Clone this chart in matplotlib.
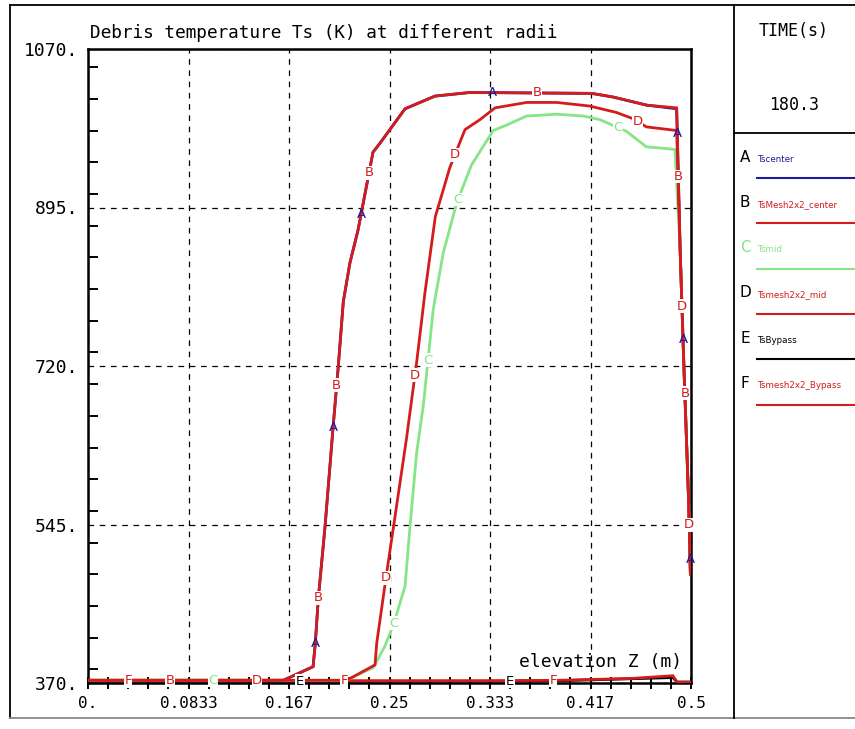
import numpy as np
import matplotlib
matplotlib.use('Agg')
import matplotlib.pyplot as plt
from matplotlib.lines import Line2D
from matplotlib.ticker import MultipleLocator

# data: elevation Z (m) vs debris temperature Ts (K)
z_a = [0, 0.162, 0.1866, 0.1885, 0.191, 0.1965, 0.2032, 0.2075, 0.2117, 0.2172, 0.2239, 0.2363,
       0.2421, 0.2629, 0.2877, 0.3167, 0.4177, 0.4353, 0.4633, 0.4881, 0.491, 0.494, 0.498, 0.4995]
t_a = [373, 373, 388, 414, 464, 542, 652, 719, 791, 834, 870, 956,
       966, 1004, 1018, 1022, 1021, 1017, 1008, 1004, 848, 724, 572, 490]
z_b = [0, 0.162, 0.1866, 0.1885, 0.191, 0.1965, 0.2032, 0.2075, 0.2117, 0.2172, 0.2239, 0.2363,
       0.2421, 0.2629, 0.2877, 0.3167, 0.4177, 0.4353, 0.4633, 0.4881, 0.491, 0.494, 0.498, 0.4995]
t_b = [373, 373, 388, 414, 464, 542, 652, 719, 791, 834, 870, 956,
       966, 1004, 1018, 1022, 1021, 1017, 1008, 1005, 848, 724, 572, 490]
z_c = [0, 0.2145, 0.2366, 0.2463, 0.2537, 0.2629, 0.267, 0.2725, 0.278, 0.2863, 0.2946, 0.3057,
       0.318, 0.336, 0.347, 0.3637, 0.3886, 0.4107, 0.4245, 0.4466, 0.463, 0.480, 0.4867,
       0.491, 0.494, 0.498, 0.4995]
t_c = [373, 373, 387, 411, 436, 477, 543, 624, 676, 783, 845, 900,
       942, 980, 986, 996, 998, 996, 992, 979, 962, 960, 959,
       848, 724, 572, 490]
z_d = [0, 0.2145, 0.238, 0.2394, 0.2477, 0.2546, 0.264, 0.2725, 0.2794, 0.288, 0.300, 0.3126,
       0.325, 0.3375, 0.3637, 0.3886, 0.416, 0.438, 0.452, 0.463, 0.4881, 0.491, 0.494, 0.498, 0.4995]
t_d = [373, 373, 390, 414, 492, 554, 639, 724, 801, 885, 939, 981,
       992, 1005, 1011, 1011, 1007, 1000, 993, 984, 980, 848, 724, 572, 490]
z_e = [0, 0.33, 0.391, 0.485, 0.4885, 0.5]
t_e = [372, 372, 372.5, 376, 371, 371]
z_f = [0, 0.33, 0.391, 0.45, 0.485, 0.4885, 0.5]
t_f = [372.5, 372.5, 373, 375, 378, 371, 371]

names = ['Tscenter', 'TsMesh2x2_center', 'Tsmid', 'Tsmesh2x2_mid', 'TsBypass', 'Tsmesh2x2_Bypass']
letters = ['A', 'B', 'C', 'D', 'E', 'F']
colors = ['#1c1c9c', '#d41c1c', '#86e586', '#d41c1c', '#000000', '#d41c1c']
# where the letter marks sit along each curve (elevation)
mark_z = [
    [0.1885, 0.2032, 0.2264, 0.335, 0.4886, 0.4934, 0.4992],
    [0.068, 0.191, 0.2062, 0.233, 0.3723, 0.4895, 0.4949],
    [0.1037, 0.2537, 0.2819, 0.3068, 0.4395],
    [0.1401, 0.2471, 0.2711, 0.3043, 0.456, 0.4925, 0.4985],
    [0.1758, 0.3499],
    [0.0332, 0.2123, 0.3856],
]
xticks = [0, 1/12, 1/6, 0.25, 1/3, 5/12, 0.5]
xlabels = ['0.', '0.0833', '0.167', '0.25', '0.333', '0.417', '0.5']
yticks = [370, 545, 720, 895, 1070]
ylabels = ['370.', '545.', '720.', '895.', '1070.']

W, H = 855, 729
mono = 'DejaVu Sans Mono'


def fp(x, y):
    return x / W, 1 - y / H


fig = plt.figure(figsize=(W / 100, H / 100), dpi=100)
ax = fig.add_axes([88 / W, 1 - 683 / H, 603 / W, 634 / H])

series = [(z_a, t_a), (z_b, t_b), (z_c, t_c), (z_d, t_d), (z_e, t_e), (z_f, t_f)]
order = [4, 0, 5, 2, 3, 1]
for i in order:
    z, t = series[i]
    ax.plot(z, t, color=colors[i], lw=2.0, solid_joinstyle='miter', zorder=3)

for i in range(6):
    z, t = series[i]
    for mz in mark_z[i]:
        mt = np.interp(mz, z, t)
        kw = {}
        if i != 0:
            kw['bbox'] = dict(facecolor='white', edgecolor='none', pad=0.3)
        ax.text(mz, mt, letters[i], color=colors[i], fontsize=9.5, ha='center', va='center',
                zorder=5, clip_on=False, **kw)

ax.set_xlim(0, 0.5)
ax.set_ylim(370, 1070)
ax.set_xticks(xticks)
ax.set_xticklabels(xlabels, fontfamily=mono, fontsize=11.5)
ax.set_yticks(yticks)
ax.set_yticklabels(ylabels, fontfamily=mono, fontsize=13)
ax.xaxis.set_minor_locator(MultipleLocator(1 / 60))
ax.yaxis.set_minor_locator(MultipleLocator(35))
ax.tick_params(axis='x', which='both', direction='inout', length=8, width=1.4, pad=5)
ax.tick_params(axis='y', which='major', length=0, pad=7)
ax.tick_params(axis='y', which='minor', direction='in', length=7, width=1.4)
ax.grid(which='major', color='black', linestyle=(0, (4.5, 4.5)), lw=0.9)
for s in ax.spines.values():
    s.set_linewidth(1.8)

ax.text(0.985, 0.033, 'elevation Z (m)', transform=ax.transAxes, ha='right', va='center',
        fontfamily=mono, fontsize=13, zorder=6)
fig.text(*fp(90, 33), 'Debris temperature Ts (K) at different radii', ha='left', va='center',
         fontfamily=mono, fontsize=12.8)

# frame and side panel
fig.add_artist(Line2D([10 / W, 1], [1 - 5 / H] * 2, color='black', lw=1.3))
fig.add_artist(Line2D([10 / W] * 2, [1 - 5 / H, 1 - 718 / H], color='black', lw=1.3))
fig.add_artist(Line2D([10 / W, 1], [1 - 718 / H] * 2, color='#888888', lw=1.3))
fig.add_artist(Line2D([734 / W] * 2, [1 - 5 / H, 1 - 718 / H], color='black', lw=1.3))
fig.add_artist(Line2D([734 / W, 1], [1 - 133 / H] * 2, color='black', lw=1.3))
fig.text(*fp(794, 31), 'TIME(s)', ha='center', va='center', fontfamily=mono, fontsize=12)
fig.text(*fp(794, 105), '180.3', ha='center', va='center', fontfamily=mono, fontsize=12)

for i in range(6):
    ty = 157 + i * 45.3
    fig.text(*fp(745, ty), letters[i], color='black' if i != 2 else colors[i],
             ha='center', va='center', fontsize=11)
    fig.text(*fp(757, ty + 2), names[i], color=colors[i], ha='left', va='center', fontsize=6.3)
    fig.add_artist(Line2D([757 / W, 1], [1 - (ty + 21) / H] * 2, color=colors[i], lw=1.5))

fig.savefig('out.png', dpi=100)
